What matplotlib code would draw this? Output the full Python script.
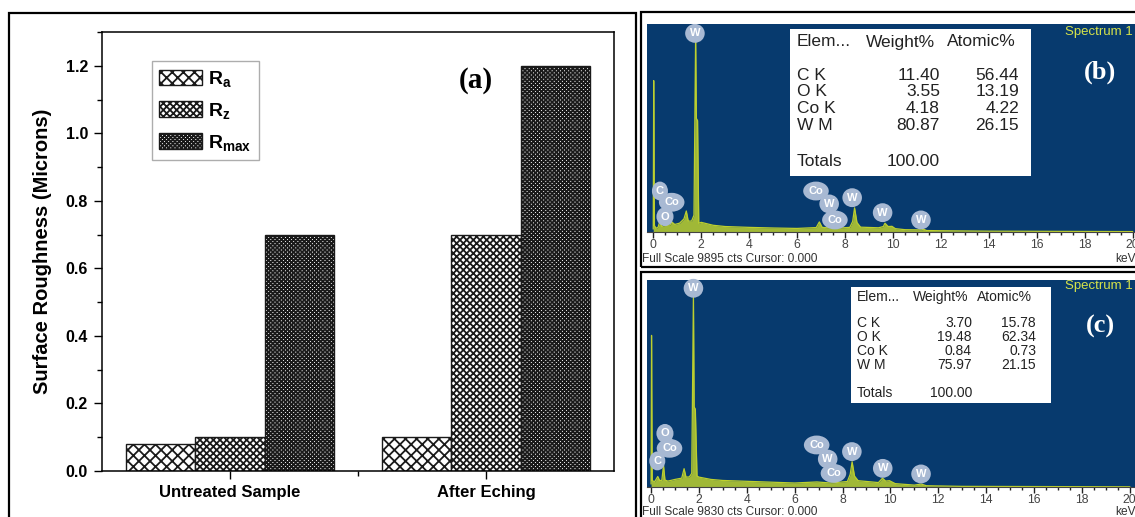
import numpy as np
import matplotlib.pyplot as plt
from matplotlib.patches import Rectangle
from matplotlib.ticker import MultipleLocator, FixedLocator, FormatStrFormatter

W, H = 1135, 517

# surface roughness (microns)
groups = ['Untreated Sample', 'After Eching']
ra = [0.08, 0.10]
rz = [0.10, 0.70]
rmax = [0.70, 1.20]

# EDS spectra (keV, counts)
kev_b = [0.00, 0.02, 0.05, 0.12, 0.20, 0.28, 0.36, 0.45, 0.52, 0.60, 0.70, 0.78, 0.90, 1.10,
         1.28, 1.38, 1.46, 1.60, 1.70, 1.77, 1.80, 1.85, 1.90, 2.00, 2.50, 3.00, 4.00, 5.00,
         6.00, 6.80, 6.93, 7.05, 7.40, 7.65, 8.20, 8.32, 8.40, 8.50, 8.65, 9.40, 9.60, 9.67,
         9.80, 9.96, 10.10, 10.50, 11.20, 11.29, 11.40, 12.00, 14.00, 20.00]
cts_b = [150, 7200, 300, 180, 220, 520, 260, 300, 470, 320, 330, 470, 360, 420,
         620, 1000, 520, 520, 800, 9500, 5400, 5300, 420, 460, 320, 260, 220, 190,
         170, 210, 480, 220, 190, 180, 220, 500, 1150, 450, 230, 200, 260, 420,
         260, 270, 160, 110, 100, 130, 70, 60, 40, 20]

kev_c = [0.00, 0.02, 0.05, 0.15, 0.28, 0.36, 0.45, 0.52, 0.58, 0.70, 0.78, 1.00, 1.28, 1.38,
         1.46, 1.60, 1.70, 1.77, 1.80, 1.85, 1.92, 2.00, 2.50, 3.00, 4.00, 5.00, 6.00, 6.93,
         7.50, 8.20, 8.32, 8.40, 8.50, 8.65, 9.50, 9.67, 9.80, 9.96, 10.20, 11.00, 11.29,
         11.50, 13.00, 20.00]
cts_c = [150, 7200, 300, 250, 500, 300, 320, 1030, 330, 280, 300, 360, 420, 870,
         470, 480, 650, 9200, 3800, 3700, 520, 470, 360, 310, 270, 230, 190, 240,
         190, 260, 600, 1200, 520, 300, 210, 420, 280, 300, 160, 90, 140,
         60, 30, 10]

elements = ['C K', 'O K', 'Co K', 'W M']
weight_b = [11.40, 3.55, 4.18, 80.87]
atomic_b = [56.44, 13.19, 4.22, 26.15]
total_b = 100.00
weight_c = [3.70, 19.48, 0.84, 75.97]
atomic_c = [15.78, 62.34, 0.73, 21.15]
total_c = 100.00
full_scale_b = 9895
full_scale_c = 9830

plt.rcParams['font.family'] = ['Liberation Sans', 'DejaVu Sans']
plt.rcParams['mathtext.fontset'] = 'custom'
plt.rcParams['mathtext.rm'] = 'Liberation Sans:bold'
plt.rcParams['mathtext.it'] = 'Liberation Sans:bold'
plt.rcParams['mathtext.bf'] = 'Liberation Sans:bold'
plt.rcParams['hatch.linewidth'] = 1.3
plt.rcParams['hatch.color'] = '#1a1a1a'


def box(x0, y0, x1, y1):
    return [x0 / W, 1 - y1 / H, (x1 - x0) / W, (y1 - y0) / H]


def pt(x, y):
    return x / W, 1 - y / H


fig = plt.figure(figsize=(W / 100, H / 100), dpi=100)

# panel frames
for x0, y0, x1, y1 in [(9, 13, 636, 530), (641, 12, 1145, 267), (641, 272, 1145, 530)]:
    fig.add_artist(Rectangle(pt(x0, y1), (x1 - x0) / W, (y1 - y0) / H, transform=fig.transFigure,
                             fill=False, ec='black', lw=1.6))

# ---- (a) roughness bars
ax = fig.add_axes(box(102, 32, 614, 471))
x = np.arange(len(groups))
w = 0.27
ax.bar(x - w, ra, w, color='white', edgecolor='#1a1a1a', lw=1, hatch='xxx', label=r'$R_a$')
ax.bar(x, rz, w, color='white', edgecolor='#1a1a1a', lw=1, hatch='xxxxx', label=r'$R_z$')
ax.bar(x + w, rmax, w, color='white', edgecolor='#1a1a1a', lw=1, hatch='xxxxxxxx', label=r'$R_{max}$')
ax.set_xlim(-0.5, 1.5)
ax.set_ylim(0, 1.3)
ax.set_xticks(x)
ax.set_xticklabels(groups, fontsize=12, fontweight='bold')
ax.xaxis.set_minor_locator(FixedLocator([0.5]))
ax.set_yticks(np.arange(0, 1.21, 0.2))
ax.yaxis.set_minor_locator(MultipleLocator(0.1))
ax.yaxis.set_major_formatter(FormatStrFormatter('%.1f'))
for lab in ax.get_yticklabels():
    lab.set_fontweight('bold')
    lab.set_fontsize(11.5)
ax.tick_params(direction='out', length=6, width=1, pad=4)
ax.tick_params(which='minor', direction='out', length=3.5, width=1)
ax.set_ylabel('Surface Roughness (Microns)', fontsize=14.5, fontweight='bold', labelpad=10)
for s in ax.spines.values():
    s.set_linewidth(1.1)
leg = ax.legend(loc='upper left', bbox_to_anchor=(0.078, 0.955), fontsize=14, frameon=True,
                fancybox=False, edgecolor='#999999', handlelength=2.2, handleheight=0.85,
                labelspacing=0.6, borderpad=0.4, handletextpad=0.3)
leg.get_frame().set_linewidth(1)
fig.text(*pt(476, 80), '(a)', family='Liberation Serif', fontweight='bold', fontsize=21,
         ha='center', va='center')

blue = '#073a6e'
green = '#bccf2e'
bubble = '#a8b9d3'


def spectrum(rect, xlim, kev, cts, full, marks):
    sx = fig.add_axes(rect)
    sx.set_facecolor(blue)
    sx.fill_between(kev, cts, color=green, lw=0, alpha=0.85)
    sx.plot(kev, cts, color=green, lw=0.9)
    sx.set_xlim(*xlim)
    sx.set_ylim(0, full * 1.0)
    sx.set_yticks([])
    sx.set_xticks(np.arange(0, 21, 2))
    sx.xaxis.set_minor_locator(MultipleLocator(0.5))
    sx.tick_params(axis='x', direction='out', length=4, width=1, colors='#222222',
                   labelsize=8.8, labelcolor='#444444', pad=1)
    sx.tick_params(axis='x', which='minor', direction='out', length=2.5, width=1, colors='#222222')
    for side in ['top', 'left', 'right']:
        sx.spines[side].set_visible(False)
    sx.spines['bottom'].set_color('#444444')
    tr = sx.get_xaxis_transform()
    for sym, ex, fy in marks:
        sx.text(ex, fy, sym, transform=tr, ha='center', va='center', fontsize=8,
                fontweight='bold', color='white', family='Liberation Sans',
                bbox=dict(boxstyle='ellipse,pad=0.15', fc=bubble, ec='none'))
    return sx


marks_b = [('W', 1.74, 0.955), ('C', 0.28, 0.197), ('Co', 0.77, 0.143), ('O', 0.49, 0.074),
           ('Co', 6.79, 0.197), ('W', 7.34, 0.135), ('Co', 7.58, 0.058), ('W', 8.30, 0.165),
           ('W', 9.57, 0.093), ('W', 11.17, 0.058)]
marks_c = [('W', 1.77, 0.96), ('O', 0.58, 0.259), ('Co', 0.77, 0.187), ('C', 0.26, 0.126),
           ('Co', 6.92, 0.203), ('W', 7.38, 0.135), ('Co', 7.62, 0.066), ('W', 8.39, 0.171),
           ('W', 9.68, 0.09), ('W', 11.28, 0.063)]

spectrum(box(647, 24, 1135, 232), (-0.26, 20.1), kev_b, cts_b, full_scale_b, marks_b)
spectrum(box(647, 280, 1135, 487), (-0.17, 20.22), kev_c, cts_c, full_scale_c, marks_c)


def table(x0, y0, x1, y1, cols, head_y, rows_y, tot_y, weight, atomic, total, fs):
    fig.add_artist(Rectangle(pt(x0, y1), (x1 - x0) / W, (y1 - y0) / H, transform=fig.transFigure,
                             fc='white', ec='none', zorder=2))
    c_el, c_wh, c_ah, c_w, c_a = cols
    kw = dict(fontsize=fs, color='#222222', family='Liberation Sans', va='center', zorder=3)
    fig.text(*pt(c_el, head_y), 'Elem...', ha='left', **kw)
    fig.text(*pt(c_wh, head_y), 'Weight%', ha='left', **kw)
    fig.text(*pt(c_ah, head_y), 'Atomic%', ha='left', **kw)
    for el, wv, av, ry in zip(elements, weight, atomic, rows_y):
        fig.text(*pt(c_el, ry), el, ha='left', **kw)
        fig.text(*pt(c_w, ry), '%.2f' % wv, ha='right', **kw)
        fig.text(*pt(c_a, ry), '%.2f' % av, ha='right', **kw)
    fig.text(*pt(c_el, tot_y), 'Totals', ha='left', **kw)
    fig.text(*pt(c_w, tot_y), '%.2f' % total, ha='right', **kw)


table(790, 29, 1031, 176, (797, 866, 947, 940, 1019), 42, [75, 92, 109, 126], 162,
      weight_b, atomic_b, total_b, 12.5)
table(851, 287, 1051, 403, (857, 913, 977, 972, 1036), 297, [323, 337, 351, 365], 393,
      weight_c, atomic_c, total_c, 10)

for y_spec, y_foot, tag, y_tag, full in [(32, 258.5, '(b)', 72, full_scale_b),
                                         (286, 512, '(c)', 326, full_scale_c)]:
    fig.text(*pt(1133, y_spec), 'Spectrum 1', ha='right', va='center', fontsize=9.5,
             color='#d6e34a', family='Liberation Sans')
    fig.text(*pt(1100, y_tag), tag, ha='center', va='center', fontsize=19, color='white',
             family='Liberation Serif', fontweight='bold')
    fig.text(*pt(642, y_foot), 'Full Scale %d cts Cursor: 0.000' % full, ha='left', va='center',
             fontsize=8.6, color='#333333', family='Liberation Sans')
    fig.text(*pt(1136, y_foot), 'keV', ha='right', va='center', fontsize=8.6, color='#333333',
             family='Liberation Sans')

fig.savefig('out.png', dpi=100)
